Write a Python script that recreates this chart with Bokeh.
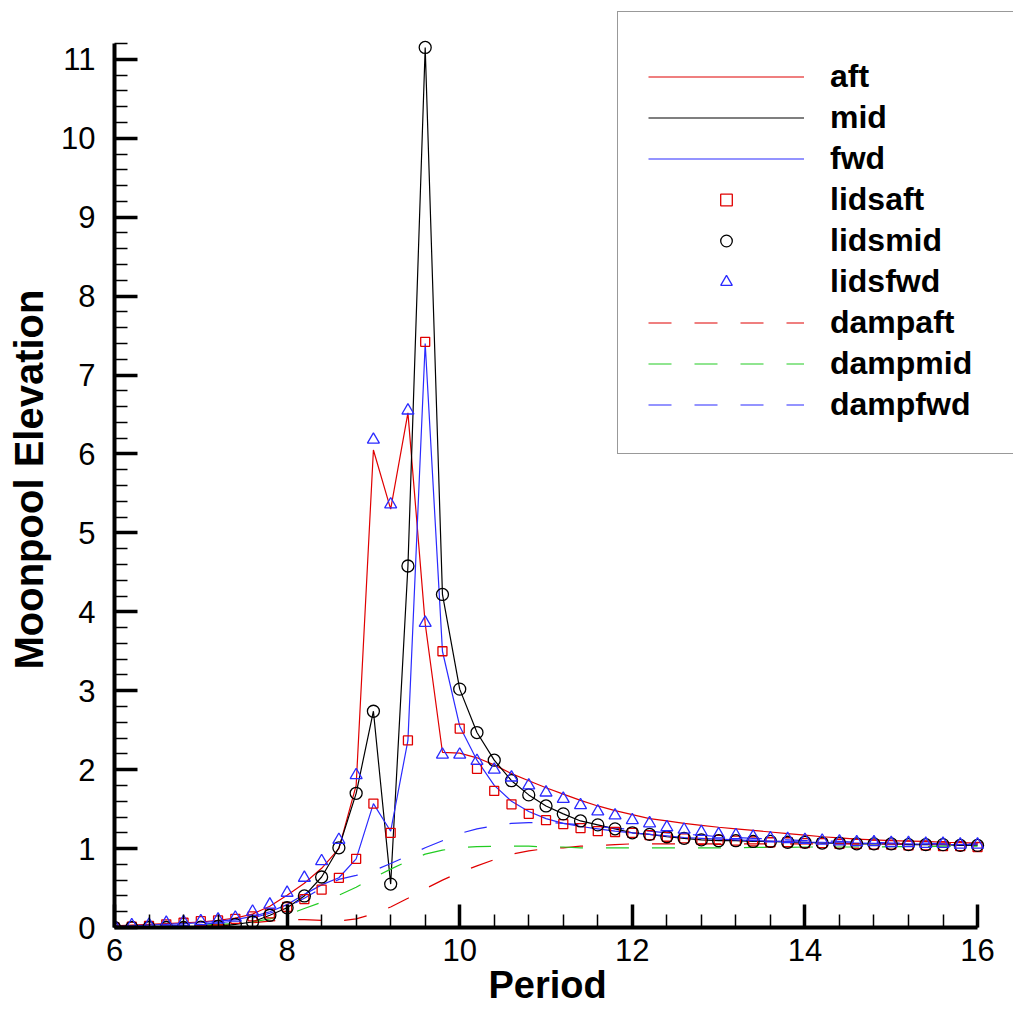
from bokeh.plotting import figure
from bokeh.models import Range1d, SingleIntervalTicker, Legend, LegendItem, Title
from bokeh.embed import file_html
from bokeh.resources import INLINE

# ---------------- data ----------------
period = [6.0, 6.2, 6.4, 6.6, 6.8, 7.0, 7.2, 7.4, 7.6, 7.8,
          8.0, 8.2, 8.4, 8.6, 8.8, 9.0, 9.2, 9.4, 9.6, 9.8,
          10.0, 10.2, 10.4, 10.6, 10.8, 11.0, 11.2, 11.4, 11.6, 11.8,
          12.0, 12.2, 12.4, 12.6, 12.8, 13.0, 13.2, 13.4, 13.6, 13.8,
          14.0, 14.2, 14.4, 14.6, 14.8, 15.0, 15.2, 15.4, 15.6, 15.8, 16.0]

aft = [0.02, 0.03, 0.04, 0.05, 0.06, 0.07, 0.09, 0.12, 0.17, 0.27,
       0.41, 0.56, 0.75, 1.00, 1.80, 6.05, 5.30, 6.52, 3.85, 2.22,
       2.21, 2.15, 2.06, 1.95, 1.86, 1.77, 1.69, 1.61, 1.54, 1.48,
       1.43, 1.38, 1.35, 1.32, 1.295, 1.27, 1.25, 1.23, 1.21, 1.19,
       1.17, 1.15, 1.135, 1.12, 1.11, 1.10, 1.095, 1.09, 1.08, 1.075, 1.07]

mid = [0.0, 0.0, 0.0, 0.0, 0.0, 0.005, 0.015, 0.04, 0.07, 0.155,
       0.25, 0.40, 0.64, 1.01, 1.70, 2.74, 0.55, 4.58, 11.15, 4.22,
       3.02, 2.47, 2.12, 1.86, 1.68, 1.54, 1.44, 1.35, 1.30, 1.25,
       1.20, 1.18, 1.15, 1.13, 1.11, 1.10, 1.10, 1.09, 1.09, 1.08,
       1.08, 1.07, 1.07, 1.06, 1.06, 1.06, 1.05, 1.05, 1.05, 1.04, 1.04]

fwd = [0.01, 0.02, 0.03, 0.04, 0.05, 0.06, 0.08, 0.10, 0.14, 0.20,
       0.29, 0.42, 0.54, 0.63, 0.87, 1.57, 1.22, 2.37, 7.40, 3.50,
       2.55, 2.12, 1.80, 1.60, 1.47, 1.38, 1.32, 1.28, 1.25, 1.22,
       1.20, 1.18, 1.16, 1.14, 1.13, 1.12, 1.11, 1.10, 1.095, 1.09,
       1.08, 1.08, 1.07, 1.07, 1.065, 1.06, 1.06, 1.055, 1.05, 1.05, 1.05]

lidsaft = [0.0, 0.01, 0.02, 0.04, 0.06, 0.08, 0.09, 0.11, 0.14, 0.18,
           0.26, 0.36, 0.48, 0.63, 0.87, 1.57, 1.20, 2.37, 7.42, 3.50,
           2.52, 2.01, 1.73, 1.56, 1.44, 1.36, 1.31, 1.26, 1.22, 1.21,
           1.20, 1.17, 1.15, 1.13, 1.11, 1.11, 1.10, 1.09, 1.08, 1.08,
           1.07, 1.07, 1.06, 1.06, 1.05, 1.05, 1.04, 1.04, 1.03, 1.03, 1.02]

lidsmid = [0.0, 0.0, 0.0, 0.0, 0.0, 0.005, 0.015, 0.04, 0.07, 0.155,
           0.25, 0.40, 0.64, 1.01, 1.70, 2.74, 0.55, 4.58, 11.15, 4.22,
           3.02, 2.47, 2.12, 1.86, 1.68, 1.54, 1.44, 1.35, 1.30, 1.25,
           1.20, 1.18, 1.15, 1.13, 1.11, 1.10, 1.10, 1.09, 1.09, 1.08,
           1.08, 1.07, 1.07, 1.06, 1.06, 1.06, 1.05, 1.05, 1.05, 1.04, 1.04]

lidsfwd = [0.02, 0.03, 0.035, 0.06, 0.07, 0.08, 0.10, 0.125, 0.20, 0.29,
           0.44, 0.63, 0.84, 1.11, 1.93, 6.18, 5.36, 6.55, 3.86, 2.19,
           2.19, 2.11, 2.00, 1.90, 1.80, 1.71, 1.63, 1.55, 1.47, 1.42,
           1.36, 1.32, 1.27, 1.24, 1.21, 1.18, 1.17, 1.15, 1.13, 1.12,
           1.11, 1.10, 1.09, 1.08, 1.08, 1.07, 1.07, 1.06, 1.06, 1.05, 1.05]

dampaft = [0.0, 0.0, 0.01, 0.01, 0.02, 0.02, 0.03, 0.04, 0.06, 0.08,
           0.10, 0.10, 0.09, 0.08, 0.11, 0.17, 0.26, 0.37, 0.49, 0.60,
           0.70, 0.78, 0.86, 0.93, 0.97, 1.00, 1.01, 1.03, 1.04, 1.05,
           1.06, 1.06, 1.06, 1.06, 1.06, 1.06, 1.06, 1.06, 1.06, 1.06,
           1.06, 1.06, 1.06, 1.06, 1.06, 1.06, 1.06, 1.06, 1.06, 1.06, 1.06]

dampmid = [0.0, 0.0, 0.01, 0.01, 0.02, 0.03, 0.04, 0.05, 0.07, 0.11,
           0.16, 0.24, 0.32, 0.41, 0.51, 0.63, 0.74, 0.84, 0.93, 0.98,
           1.01, 1.025, 1.03, 1.03, 1.03, 1.02, 1.02, 1.01, 1.01, 1.01,
           1.01, 1.01, 1.01, 1.01, 1.01, 1.01, 1.01, 1.015, 1.015, 1.015,
           1.02, 1.02, 1.02, 1.02, 1.02, 1.025, 1.025, 1.025, 1.03, 1.03, 1.03]

dampfwd = [0.0, 0.0, 0.01, 0.02, 0.03, 0.04, 0.06, 0.08, 0.12, 0.18,
           0.26, 0.37, 0.50, 0.61, 0.66, 0.72, 0.81, 0.91, 1.01, 1.10,
           1.19, 1.25, 1.29, 1.32, 1.33, 1.33, 1.32, 1.30, 1.28, 1.26,
           1.24, 1.22, 1.20, 1.18, 1.17, 1.15, 1.14, 1.13, 1.12, 1.11,
           1.10, 1.10, 1.09, 1.08, 1.08, 1.07, 1.07, 1.07, 1.06, 1.06, 1.06]

x_label = "Period"
y_label = "Moonpool Elevation"

# ---------------- style ----------------
RED = "#e00000"
BLACK = "#000000"
BLUE = "#2a2aff"
GREEN = "#22cc22"
FONT = "Liberation Sans"

# frame spans to the right/top edges of the canvas so the legend box is not
# clipped; the axes themselves are limited with "bounds"
p = figure(width=1013, height=1009,
           x_range=Range1d(6, 16.4167), y_range=Range1d(0, 11.745),
           output_backend="svg", toolbar_location=None,
           min_border_left=113, min_border_right=0,
           min_border_top=0, min_border_bottom=82)

p.xgrid.visible = False
p.ygrid.visible = False
p.outline_line_color = None
p.background_fill_color = "white"
p.border_fill_color = "white"

p.xaxis.ticker = SingleIntervalTicker(interval=2, num_minor_ticks=5)
p.yaxis.ticker = SingleIntervalTicker(interval=1, num_minor_ticks=5)
p.xaxis.bounds = (6, 16)
p.yaxis.bounds = (0, 11.2)

for ax in (p.xaxis[0], p.yaxis[0]):
    ax.axis_line_width = 4
    ax.axis_line_color = "black"
    ax.major_tick_in = 23
    ax.major_tick_out = 0
    ax.minor_tick_in = 13
    ax.minor_tick_out = 0
    ax.major_tick_line_width = 3.5
    ax.minor_tick_line_width = 1.5
    ax.major_tick_line_color = "black"
    ax.minor_tick_line_color = "black"
    ax.major_label_text_font = FONT
    ax.major_label_text_font_size = "31px"
    ax.major_label_text_color = "black"

p.xaxis.major_label_standoff = 11
p.yaxis.major_label_standoff = 19

# axis titles (as side-panel titles so they can be centred on the axes'
# own extents rather than on the enlarged frame)
xt = Title(text=x_label, align="left", offset=374, standoff=0,
           vertical_align="top",
           text_font=FONT, text_font_size="38px", text_font_style="bold",
           text_color="black")
p.add_layout(xt, "below")
yt = Title(text=y_label, align="left", offset=258, standoff=12,
           vertical_align="top",
           text_font=FONT, text_font_size="40px", text_font_style="bold",
           text_color="black")
p.add_layout(yt, "left")

LW = 1.2
r_aft = p.line(period, aft, line_color=RED, line_width=LW)
r_mid = p.line(period, mid, line_color=BLACK, line_width=LW)
r_fwd = p.line(period, fwd, line_color=BLUE, line_width=LW)
r_daft = p.line(period, dampaft, line_color=RED, line_width=LW, line_dash="23 23")
r_dmid = p.line(period, dampmid, line_color=GREEN, line_width=LW, line_dash="23 23")
r_dfwd = p.line(period, dampfwd, line_color=BLUE, line_width=LW, line_dash="23 23")

r_laft = p.scatter(period, lidsaft, marker="square", size=9, line_color=RED,
                   fill_color=None, line_width=1.3)
r_lmid = p.scatter(period, lidsmid, marker="circle", size=12, line_color=BLACK,
                   fill_color=None, line_width=1.3)
r_lfwd = p.scatter(period, lidsfwd, marker="triangle", size=12, line_color=BLUE,
                   fill_color=None, line_width=1.3)

items = [
    LegendItem(label="aft", renderers=[r_aft]),
    LegendItem(label="mid", renderers=[r_mid]),
    LegendItem(label="fwd", renderers=[r_fwd]),
    LegendItem(label="lidsaft", renderers=[r_laft]),
    LegendItem(label="lidsmid", renderers=[r_lmid]),
    LegendItem(label="lidsfwd", renderers=[r_lfwd]),
    LegendItem(label="dampaft", renderers=[r_daft]),
    LegendItem(label="dampmid", renderers=[r_dmid]),
    LegendItem(label="dampfwd", renderers=[r_dfwd]),
]
legend = Legend(items=items, location=(503, 473),
                title=" ", title_text_font_size="8px", title_standoff=6,
                glyph_width=156, glyph_height=29, label_height=38,
                label_width=200, spacing=3, padding=30, label_standoff=26,
                label_text_font=FONT, label_text_font_style="bold",
                label_text_font_size="32px", label_text_color="black",
                border_line_color="#333333", border_line_width=1.5,
                background_fill_color="white", background_fill_alpha=1.0)
p.add_layout(legend)

open("out.html", "w").write(file_html(p, INLINE))
